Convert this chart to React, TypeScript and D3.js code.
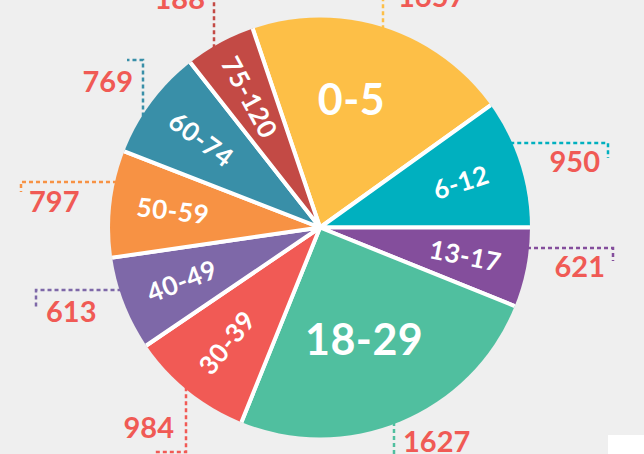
import React, { useEffect, useRef } from 'react';
import * as d3 from 'd3';

// age groups, clockwise from the top
const ageGroups = ['0-5', '6-12', '13-17', '18-29', '30-39', '40-49', '50-59', '60-74', '75-120'];
// slice shares (%)
const shares = [20.3, 9.9, 6.1, 25.0, 9.4, 7.2, 8.2, 8.5, 5.4];
// the counts printed next to each slice
const counts = [1657, 950, 621, 1627, 984, 613, 797, 769, 188];
const colors = ['#fdbf47', '#00b0bf', '#844e9c', '#50bf9f', '#f15a55', '#7e68a8', '#f79244', '#398fa8', '#c34a45'];
// the two big horizontal labels: [radius, angle nudge in radians]
const bigLabels: Record<string, [number, number]> = { '0-5': [132, -0.07], '18-29': [120, 0.025] };

// leader layout: 'v' = vertical from the rim at x, 'h' = horizontal from the rim at y
const leaders = [
  { kind: 'v', at: 383, to: -2, tx: 398, ty: 7, anchor: 'start' },
  { kind: 'h', at: 143, to: 608, tick: 158, tx: 600, ty: 172, anchor: 'end' },
  { kind: 'h', at: 248, to: 613, tick: 261, tx: 605, ty: 277, anchor: 'end' },
  { kind: 'v', at: 394, to: 460, tx: 403, ty: 452, anchor: 'start' },
  { kind: 'v', at: 186, to: 452, tick: 155, tx: 174, ty: 438, anchor: 'end' },
  { kind: 'h', at: 290, to: 36, tick: 308, tx: 46, ty: 322, anchor: 'start' },
  { kind: 'h', at: 182, to: 21, tick: 192, tx: 29, ty: 212, anchor: 'start' },
  { kind: 'v', at: 143, to: 60, tick: 127, tx: 133, ty: 92, anchor: 'end' },
  { kind: 'v', at: 214, to: -2, tx: 205, ty: 9, anchor: 'end' },
];

const App: React.FC = () => {
  const svgRef = useRef<SVGSVGElement | null>(null);

  useEffect(() => {
    if (!svgRef.current) return;
    const width = 644;
    const height = 454;
    const cx = 320;
    const cy = 227.5;
    const radius = 210;
    const font = 'Lato, "Open Sans", sans-serif';

    const svg = d3.select(svgRef.current);
    svg.selectAll('*').remove();

    svg.append('rect').attr('width', width).attr('height', height).attr('fill', '#efefef');
    svg.append('rect').attr('x', 608).attr('y', 435).attr('width', 36).attr('height', 19).attr('fill', '#ffffff');

    // clip so the white separators do not run round the rim
    svg.append('defs')
      .append('clipPath')
      .attr('id', 'pie-clip')
      .append('circle')
      .attr('r', radius);

    const start = (-18.7 * Math.PI) / 180;
    const pie = d3.pie<number>().sort(null).startAngle(start).endAngle(start + 2 * Math.PI);
    const arcs = pie(shares);
    const arc = d3.arc<d3.PieArcDatum<number>>().innerRadius(0).outerRadius(radius + 4);

    // leader lines first, so the pie covers their ends
    const lg = svg.append('g');
    leaders.forEach((l, i) => {
      let d = '';
      if (l.kind === 'v') {
        const dx = l.at - cx;
        const h = Math.sqrt(radius * radius - dx * dx);
        const y0 = l.to < cy ? cy - h + 2 : cy + h - 2;
        d = `M${l.at},${y0}V${l.to}`;
        if (l.tick !== undefined) d += `H${l.tick}`;
      } else {
        const dy = l.at - cy;
        const w = Math.sqrt(radius * radius - dy * dy);
        const x0 = l.to < cx ? cx - w + 2 : cx + w - 2;
        d = `M${x0},${l.at}H${l.to}`;
        if (l.tick !== undefined) d += `V${l.tick}`;
      }
      lg.append('path')
        .attr('d', d)
        .attr('fill', 'none')
        .attr('stroke', colors[i])
        .attr('stroke-width', 2.5)
        .attr('stroke-dasharray', '4 3');
      lg.append('text')
        .attr('x', l.tx)
        .attr('y', l.ty)
        .attr('text-anchor', l.anchor)
        .attr('font-family', font)
        .attr('font-weight', 700)
        .attr('font-size', 29)
        .attr('fill', '#f05a55')
        .text(counts[i]);
    });

    const g = svg.append('g').attr('transform', `translate(${cx},${cy})`);

    // slices
    g.append('g')
      .attr('clip-path', 'url(#pie-clip)')
      .selectAll('path.slice')
      .data(arcs)
      .join('path')
      .attr('class', 'slice')
      .attr('d', arc)
      .attr('fill', (_, i) => colors[i])
      .attr('stroke', '#ffffff')
      .attr('stroke-width', 4)
      .attr('stroke-linejoin', 'round');

    // slice labels
    g.selectAll('text.label')
      .data(arcs)
      .join('text')
      .attr('class', 'label')
      .attr('transform', (d, i) => {
        const mid = (d.startAngle + d.endAngle) / 2;
        const big = bigLabels[ageGroups[i]];
        const r = big ? big[0] : 148;
        const a = big ? mid + big[1] : mid;
        const x = r * Math.sin(a);
        const y = -r * Math.cos(a);
        const deg = ((mid * 180) / Math.PI + 360) % 360;
        let rot = 0;
        if (!big) rot = deg > 180 ? deg + 90 : deg - 90;
        return `translate(${x},${y}) rotate(${rot})`;
      })
      .attr('text-anchor', 'middle')
      .attr('dy', '0.36em')
      .attr('font-family', font)
      .attr('font-weight', 700)
      .attr('font-size', (_, i) => (bigLabels[ageGroups[i]] ? 43 : 26))
      .attr('letter-spacing', 0.5)
      .attr('fill', '#ffffff')
      .text((_, i) => ageGroups[i]);
  }, []);

  return (
    <svg
      ref={svgRef}
      width={644}
      height={454}
      style={{ position: 'absolute', left: 0, top: 0, display: 'block' }}
    ></svg>
  );
};

export default App;
